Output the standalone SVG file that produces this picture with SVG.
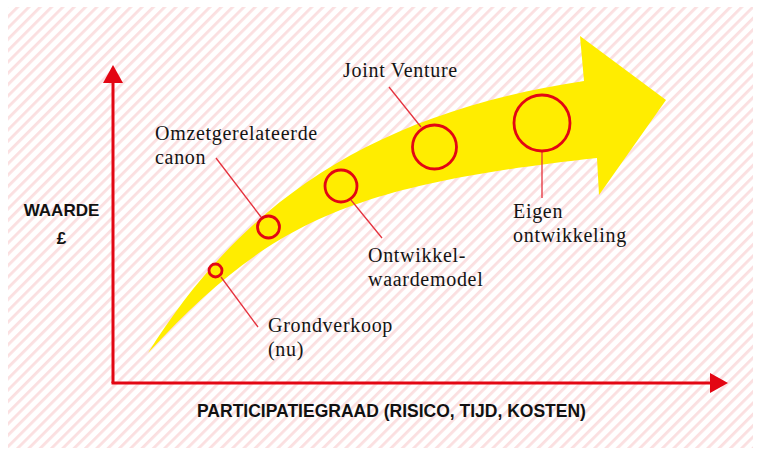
<svg xmlns="http://www.w3.org/2000/svg" width="761" height="455" viewBox="0 0 761 455">
<defs>
<pattern id="hatch" width="8" height="8" patternUnits="userSpaceOnUse" patternTransform="rotate(45)">
<rect x="0" y="0" width="2.8" height="8" fill="#fbdfe0"/>
</pattern>
<marker id="ah" viewBox="0 0 18 20" refX="1" refY="10" markerWidth="18" markerHeight="20" markerUnits="userSpaceOnUse" orient="auto">
<path d="M0,0 L18,10 L0,20 Z" fill="#e30613"/>
</marker>
</defs>
<style>
.lbl{font-family:"Liberation Serif","Times New Roman",serif;font-size:20px;letter-spacing:0.7px;fill:#141414}
.ax{font-family:"Liberation Sans",Arial,sans-serif;font-weight:bold;fill:#111}
.circ{fill:none;stroke:#e30613;stroke-width:2.8}
.lead{stroke:#e5313d;stroke-width:1.3;fill:none}
.axis{stroke:#e30613;stroke-width:3;fill:none}
</style>
<rect x="8" y="7" width="745" height="441" fill="url(#hatch)"/>
<g id="arrow">
<path d="M148,353 C238,209 364,114 584,81 L580,36 L666,100 L599,195 L597,158 C347,185.5 268,223.4 148,353 Z" fill="#ffed00"/>
</g>
<g id="axes">
<path class="axis" d="M113,383 L113,82" marker-end="url(#ah)"/>
<path class="axis" d="M111.5,383 L711,383" marker-end="url(#ah)"/>
<text class="ax" x="61.5" y="216" font-size="17" text-anchor="middle">WAARDE</text>
<text class="ax" x="61.5" y="244" font-size="17" text-anchor="middle">£</text>
<text class="ax" x="197" y="417" font-size="17.5">PARTICIPATIEGRAAD (RISICO, TIJD, KOSTEN)</text>
</g>
<g id="connectors">
<line class="lead" x1="221" y1="277" x2="258" y2="327"/>
<line class="lead" x1="216" y1="158" x2="261" y2="217"/>
<line class="lead" x1="351" y1="200" x2="382" y2="238"/>
<line class="lead" x1="389" y1="87" x2="421" y2="127"/>
<line class="lead" x1="542" y1="152" x2="542" y2="198"/>
</g>
<g id="n-grond">
<circle class="circ" cx="215.5" cy="270.5" r="6.5"/>
<text class="lbl" x="268" y="332">Grondverkoop</text>
<text class="lbl" x="268" y="356">(nu)</text>
</g>
<g id="n-omzet">
<circle class="circ" cx="268.5" cy="227" r="11"/>
<text class="lbl" x="155" y="140">Omzetgerelateerde</text>
<text class="lbl" x="155" y="164">canon</text>
</g>
<g id="n-ontw">
<circle class="circ" cx="341" cy="186" r="16"/>
<text class="lbl" x="368" y="262">Ontwikkel-</text>
<text class="lbl" x="368" y="286">waardemodel</text>
</g>
<g id="n-joint">
<circle class="circ" cx="434.5" cy="147" r="22"/>
<text class="lbl" x="343" y="77">Joint Venture</text>
</g>
<g id="n-eigen">
<circle class="circ" cx="542" cy="123" r="28"/>
<text class="lbl" x="513" y="218">Eigen</text>
<text class="lbl" x="513" y="242">ontwikkeling</text>
</g>
</svg>
